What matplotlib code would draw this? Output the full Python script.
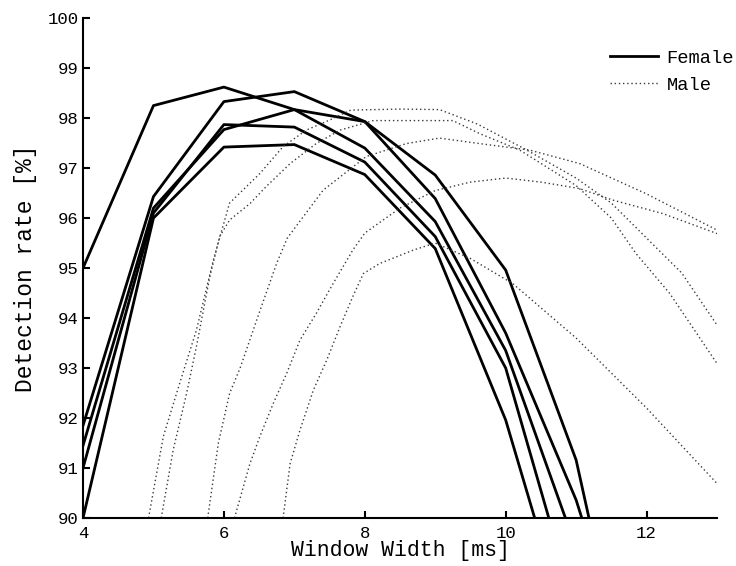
import matplotlib
matplotlib.use("Agg")
import matplotlib.pyplot as plt
import numpy as np

# ── Data ──────────────────────────────────────────────────────────────────────
# female runs: sampled every 1 ms (values below 90 fall outside the axis)
win_f = [4, 5, 6, 7, 8, 9, 10, 11, 12]
fem_1 = [95.00, 98.25, 98.62, 98.17, 97.40, 95.93, 93.35, 89.40, 85.0]
fem_2 = [91.85, 96.43, 98.33, 98.53, 97.93, 96.86, 94.96, 91.16, 84.8]
fem_3 = [91.00, 96.10, 97.87, 97.82, 97.12, 95.63, 93.00, 88.10, 83.0]
fem_4 = [91.45, 96.20, 97.77, 98.17, 97.93, 96.39, 93.70, 90.36, 85.9]
fem_5 = [90.00, 96.00, 97.42, 97.47, 96.87, 95.39, 91.96, 87.20, 82.0]

# male runs: finer sampling
male_1_x = [4.93, 5.14, 5.38, 5.61, 5.85, 6.08, 6.51, 6.84, 7.17, 7.5, 7.8, 8.5, 9.06, 9.6, 10.3, 11.0, 11.5, 12.0, 12.5, 13.0]
male_1_y = [90.0, 91.63, 92.73, 93.76, 95.16, 96.3, 96.89, 97.43, 97.76, 97.96, 98.16, 98.18, 98.17, 97.88, 97.36, 96.8, 96.3, 95.6, 94.9, 93.86]
male_2_x = [5.11, 5.28, 5.47, 5.61, 5.80, 5.94, 6.08, 6.37, 6.60, 6.94, 7.31, 7.65, 8.12, 9.25, 9.63, 10.2, 11.0, 11.5, 11.85, 12.33, 13.0]
male_2_y = [90.0, 91.36, 92.49, 93.43, 94.83, 95.63, 95.96, 96.29, 96.63, 97.09, 97.49, 97.76, 97.95, 97.95, 97.69, 97.36, 96.65, 96.0, 95.29, 94.49, 93.09]
male_3_x = [5.77, 5.92, 6.08, 6.23, 6.5, 6.75, 6.9, 7.41, 8.02, 8.59, 9.06, 9.63, 10.34, 11.05, 11.99, 13.0]
male_3_y = [90.0, 91.49, 92.49, 93.0, 94.1, 95.1, 95.6, 96.56, 97.23, 97.49, 97.6, 97.49, 97.36, 97.09, 96.49, 95.76]
male_4_x = [6.15, 6.37, 6.51, 6.70, 6.89, 7.08, 7.31, 7.55, 7.83, 8.0, 8.5, 9.0, 9.5, 10.0, 10.5, 11.05, 11.52, 12.23, 13.0]
male_4_y = [90.0, 91.09, 91.63, 92.29, 92.89, 93.56, 94.09, 94.69, 95.36, 95.7, 96.2, 96.55, 96.72, 96.8, 96.72, 96.59, 96.36, 96.09, 95.69]
male_5_x = [6.84, 6.94, 7.08, 7.27, 7.46, 7.65, 7.83, 7.98, 8.21, 8.69, 9.0, 9.5, 10.1, 11.0, 12.0, 13.0]
male_5_y = [90.0, 91.09, 91.76, 92.56, 93.16, 93.83, 94.43, 94.89, 95.09, 95.36, 95.5, 95.19, 94.69, 93.6, 92.2, 90.69]

x_ticks = [4, 6, 8, 10, 12]
y_ticks = list(range(90, 101))

plt.rcParams.update({
    "font.family": ["Liberation Mono", "DejaVu Sans Mono"],
    "font.size": 12,
})

fig = plt.figure(figsize=(7.36, 5.66), dpi=100)
ax = fig.add_axes([0.1128, 0.0848, 0.8614, 0.8832])

for i, f in enumerate([fem_1, fem_2, fem_3, fem_4, fem_5]):
    ax.plot(win_f, f, color="black", linewidth=2.0,
            label="Female" if i == 0 else None)

male = [(male_1_x, male_1_y), (male_2_x, male_2_y), (male_3_x, male_3_y),
        (male_4_x, male_4_y), (male_5_x, male_5_y)]
for i, (mx, my) in enumerate(male):
    ax.plot(mx, my, color="#3a3a3a", linewidth=1.0, linestyle=(0, (1, 2)),
            label="Male" if i == 0 else None)

ax.set_xlim(4, 13)
ax.set_ylim(90, 100)
ax.set_xticks(x_ticks)
ax.set_yticks(y_ticks)
ax.tick_params(direction="in", length=5, width=1.5, labelsize=12.5)
ax.tick_params(axis="x", pad=6)
ax.tick_params(axis="y", pad=3)
for s in ["top", "right"]:
    ax.spines[s].set_visible(False)
for s in ["left", "bottom"]:
    ax.spines[s].set_linewidth(1.5)

ax.set_xlabel("Window Width [ms]", fontsize=15.5, labelpad=-1)
ax.set_ylabel("Detection rate [%]", fontsize=16.5, labelpad=8)

ax.legend(loc="upper left", bbox_to_anchor=(0.818, 0.926), bbox_transform=fig.transFigure,
          frameon=False, fontsize=13.5, handlelength=2.6, handletextpad=0.45,
          labelspacing=0.55, borderaxespad=0)

fig.savefig("out.png", dpi=100)
